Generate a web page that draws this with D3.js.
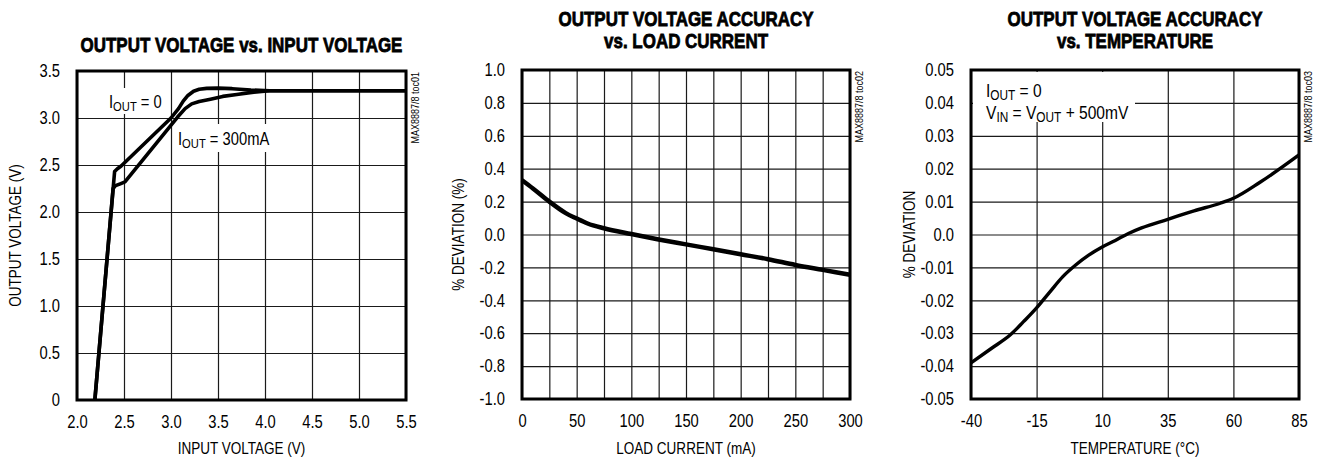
<!DOCTYPE html>
<html>
<head>
<meta charset="utf-8">
<script src="https://cdn.jsdelivr.net/npm/d3@7/dist/d3.min.js"></script>
<style>
body { margin: 0; background: #fff; }
svg text { font-family: "Liberation Sans Narrow", "Liberation Sans", Arial, sans-serif; fill: #000; }
/* no narrow face installed: squeeze the glyphs instead */
.nc, .nl, .nr { transform-box: fill-box; transform: scaleX(0.82); }
.nc { transform-origin: center; }
.nl { transform-origin: left center; }
.nr { transform-origin: right center; }
.title { font-weight: bold; font-size: 20.7px; stroke: #000; stroke-width: 0.8px; }
.tick text { font-size: 18px; }
.axis-title { font-size: 16.5px; }
.note { font-size: 18px; }
.side { font-size: 11px; }
.grid line { stroke: #1a1a1a; stroke-width: 1.2; }
.grid path { display: none; }
.curve { fill: none; stroke: #000; stroke-linejoin: round; stroke-linecap: butt; }
.frame { fill: none; stroke: #000; stroke-width: 3; }
</style>
</head>
<body>
<div class="charts"></div>
<script>
// ---- chart 1: output voltage vs input voltage
const vinNoLoad  = [2.19, 2.40, 2.43, 2.47, 3.00, 3.08, 3.13, 3.18, 3.24, 3.30, 3.38, 3.50, 3.65, 3.85, 4.05, 5.50];
const voutNoLoad = [0, 2.43, 2.46, 2.49, 3.00, 3.10, 3.18, 3.24, 3.285, 3.305, 3.315, 3.318, 3.312, 3.298, 3.29, 3.29];
const vinFull    = [2.19, 2.384, 2.41, 2.46, 2.51, 3.07, 3.15, 3.22, 3.30, 3.42, 3.55, 3.70, 3.84, 4.05, 5.50];
const voutFull   = [0, 2.25, 2.28, 2.30, 2.32, 3.01, 3.10, 3.15, 3.175, 3.20, 3.23, 3.25, 3.27, 3.29, 3.29];
const vinTicks   = [2.0, 2.5, 3.0, 3.5, 4.0, 4.5, 5.0, 5.5];
const vinLabels  = ["2.0", "2.5", "3.0", "3.5", "4.0", "4.5", "5.0", "5.5"];
const voutTicks  = [0, 0.5, 1.0, 1.5, 2.0, 2.5, 3.0, 3.5];
const voutLabels = ["0", "0.5", "1.0", "1.5", "2.0", "2.5", "3.0", "3.5"];

// ---- chart 2: accuracy vs load current
const loadCurrent = [0, 10, 25, 40, 50, 60, 75, 100, 125, 150, 175, 200, 225, 250, 275, 300];
const loadDev     = [0.33, 0.28, 0.20, 0.13, 0.097, 0.067, 0.038, 0.003, -0.03, -0.06, -0.09, -0.12, -0.15, -0.185, -0.215, -0.245];
const loadGrid    = [0, 25, 50, 75, 100, 125, 150, 175, 200, 225, 250, 275, 300];
const loadTicks   = [0, 50, 100, 150, 200, 250, 300];
const loadLabels  = ["0", "50", "100", "150", "200", "250", "300"];
const devTicks    = [-1.0, -0.8, -0.6, -0.4, -0.2, 0, 0.2, 0.4, 0.6, 0.8, 1.0];
const devLabels   = ["-1.0", "-0.8", "-0.6", "-0.4", "-0.2", "0.0", "0.2", "0.4", "0.6", "0.8", "1.0"];

// ---- chart 3: accuracy vs temperature
const tempC      = [-40, -32, -25, -20, -15, -10, -5, 0, 5, 10, 15, 20, 25, 35, 45, 55, 60, 70, 85];
const tempDev    = [-0.039, -0.0345, -0.0305, -0.0265, -0.0223, -0.0175, -0.0128, -0.0092, -0.0062, -0.0038, -0.0018, 0.0003, 0.002, 0.0046, 0.0072, 0.0095, 0.011, 0.0158, 0.0242];
const tempTicks  = [-40, -15, 10, 35, 60, 85];
const tempLabels = ["-40", "-15", "10", "35", "60", "85"];
const tdevTicks  = [-0.05, -0.04, -0.03, -0.02, -0.01, 0, 0.01, 0.02, 0.03, 0.04, 0.05];
const tdevLabels = ["-0.05", "-0.04", "-0.03", "-0.02", "-0.01", "0.0", "0.01", "0.02", "0.03", "0.04", "0.05"];

const svg = d3.select(".charts").append("svg")
    .attr("width", 1320)
    .attr("height", 460);

// writes a text with subscript parts, e.g. [["I"],["OUT",1],[" = 0"]]
let richText = (g, x, y, parts, size) => {
    let t = g.append("text").attr("class", "note nl").attr("x", x).attr("y", y)
        .style("font-size", size + "px");
    let down = false;
    parts.forEach(([s, sub]) => {
        let ts = t.append("tspan").text(s);
        if (sub) ts.style("font-size", (size * 0.76) + "px");
        if (sub && !down) { ts.attr("dy", 3); down = true; }
        else if (!sub && down) { ts.attr("dy", -3); down = false; }
    });
    return t;
};

let drawPanel = (p) => {
    const g = svg.append("g");
    const h = p.bottom - p.top, w = p.right - p.left;

    let x = d3.scaleLinear().domain(p.xDomain).range([p.left, p.right]);
    let y = d3.scaleLinear().domain(p.yDomain).range([p.bottom, p.top]);

    // grid lines
    g.append("g").attr("class", "grid")
        .attr("transform", "translate(0," + p.bottom + ")")
        .call(d3.axisBottom(x).tickValues(p.xGrid).tickSize(-h).tickFormat(""));
    g.append("g").attr("class", "grid")
        .attr("transform", "translate(" + p.left + ",0)")
        .call(d3.axisLeft(y).tickValues(p.yTicks).tickSize(-w).tickFormat(""));

    // tick labels
    g.append("g").attr("class", "axis")
        .attr("transform", "translate(0," + p.bottom + ")")
        .call(d3.axisBottom(x).tickValues(p.xTicks).tickSize(0).tickPadding(15)
            .tickFormat((d, i) => p.xLabels[i]))
        .call(a => a.select(".domain").remove())
        .call(a => a.selectAll("text").attr("class", "nc"));
    g.append("g").attr("class", "axis")
        .attr("transform", "translate(" + p.left + ",0)")
        .call(d3.axisLeft(y).tickValues(p.yTicks).tickSize(0).tickPadding(17)
            .tickFormat((d, i) => p.yLabels[i]))
        .call(a => a.select(".domain").remove())
        .call(a => a.selectAll("text").attr("class", "nr"));

    // white boxes behind the notes
    (p.boxes || []).forEach(b => {
        g.append("rect").attr("x", b[0]).attr("y", b[1]).attr("width", b[2]).attr("height", b[3])
            .attr("fill", "#fff");
    });

    let line = d3.line().curve(p.curve)
        .x(d => x(d[0]))
        .y(d => y(d[1]));
    p.series.forEach(s => {
        g.append("path").attr("class", "curve")
            .attr("stroke-width", p.lineWidth)
            .attr("d", line(d3.zip(s[0], s[1])));
    });

    g.append("rect").attr("class", "frame")
        .attr("x", p.left).attr("y", p.top).attr("width", w).attr("height", h);

    // titles
    p.title.forEach((t, i) => {
        g.append("text").attr("class", "title nc")
            .attr("x", (p.left + p.right) / 2)
            .attr("y", p.titleY + i * 22)
            .attr("text-anchor", "middle")
            .text(t);
    });
    g.append("text").attr("class", "axis-title nc")
        .attr("x", (p.left + p.right) / 2).attr("y", 454)
        .attr("text-anchor", "middle")
        .text(p.xTitle);
    g.append("g")
        .attr("transform", "translate(" + p.yTitleX + "," + (p.top + p.bottom) / 2 + ") rotate(-90)")
        .append("text").attr("class", "axis-title nc")
        .attr("text-anchor", "middle")
        .text(p.yTitle);
    g.append("g")
        .attr("transform", "translate(" + (p.right + 13) + "," + (p.top + 1) + ") rotate(-90)")
        .append("text").attr("class", "side nr")
        .attr("text-anchor", "end")
        .text(p.side);

    (p.notes || []).forEach(n => richText(g, n[0], n[1], n[2], p.noteSize));
};

drawPanel({
    left: 77, right: 406, top: 71, bottom: 400,
    xDomain: [2.0, 5.5], yDomain: [0, 3.5],
    xGrid: vinTicks, xTicks: vinTicks, xLabels: vinLabels,
    yTicks: voutTicks, yLabels: voutLabels,
    series: [[vinNoLoad, voutNoLoad], [vinFull, voutFull]],
    curve: d3.curveLinear, lineWidth: 3.6,
    title: ["OUTPUT VOLTAGE vs. INPUT VOLTAGE"], titleY: 52,
    xTitle: "INPUT VOLTAGE (V)", yTitle: "OUTPUT VOLTAGE (V)", yTitleX: 21,
    side: "MAX8887/8 toc01",
    boxes: [[106, 88, 60, 26], [175, 124, 98, 28]],
    noteSize: 18,
    notes: [[109, 108, [["I"], ["OUT", 1], [" = 0"]]],
            [178, 145, [["I"], ["OUT", 1], [" = 300mA"]]]]
});

drawPanel({
    left: 522, right: 850, top: 70, bottom: 399,
    xDomain: [0, 300], yDomain: [-1, 1],
    xGrid: loadGrid, xTicks: loadTicks, xLabels: loadLabels,
    yTicks: devTicks, yLabels: devLabels,
    series: [[loadCurrent, loadDev]],
    curve: d3.curveMonotoneX, lineWidth: 4.5,
    title: ["OUTPUT VOLTAGE ACCURACY", "vs. LOAD CURRENT"], titleY: 26,
    xTitle: "LOAD CURRENT (mA)", yTitle: "% DEVIATION (%)", yTitleX: 464,
    side: "MAX8887/8 toc02"
});

drawPanel({
    left: 971, right: 1299, top: 70, bottom: 399,
    xDomain: [-40, 85], yDomain: [-0.05, 0.05],
    xGrid: tempTicks, xTicks: tempTicks, xLabels: tempLabels,
    yTicks: tdevTicks, yLabels: tdevLabels,
    series: [[tempC, tempDev]],
    curve: d3.curveMonotoneX, lineWidth: 3.4,
    title: ["OUTPUT VOLTAGE ACCURACY", "vs. TEMPERATURE"], titleY: 26,
    xTitle: "TEMPERATURE (\u00B0C)", yTitle: "% DEVIATION", yTitleX: 915,
    side: "MAX8887/8 toc03",
    boxes: [[973, 72, 162, 50]],
    noteSize: 19,
    notes: [[986, 97, [["I"], ["OUT", 1], [" = 0"]]],
            [986, 119, [["V"], ["IN", 1], [" = V"], ["OUT", 1], [" + 500mV"]]]]
});
</script>
</body>
</html>
